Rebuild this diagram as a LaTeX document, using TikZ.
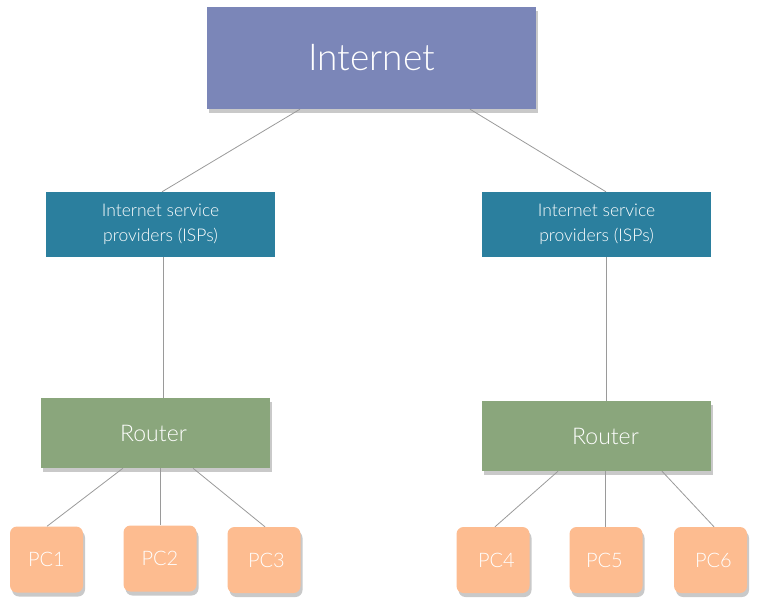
\documentclass[tikz,border=0pt]{standalone}
\usepackage{fontspec}
\setmainfont{Lato}[UprightFont=* Light]
\usetikzlibrary{shadows}
\definecolor{inetc}{HTML}{7B86B8}
\definecolor{ispc}{HTML}{2B7F9E}
\definecolor{routc}{HTML}{8AA67C}
\definecolor{pcc}{HTML}{FDBC90}
\definecolor{linec}{HTML}{9A9A9A}
\tikzset{
  box/.style={rectangle, inner sep=0pt, text=white, align=center},
  shad/.style={drop shadow={shadow xshift=2pt, shadow yshift=-4pt, opacity=0.3, fill=black!70}},
  inetbox/.style={box, shad, fill=inetc, minimum width=329pt, minimum height=102pt, font=\fontsize{37}{40}\selectfont},
  ispbox/.style={box, fill=ispc, minimum width=229pt, minimum height=65pt, font=\fontsize{17.5}{25}\selectfont},
  routbox/.style={box, shad, fill=routc, minimum width=229pt, minimum height=70pt, font=\fontsize{23}{26}\selectfont},
  pcbox/.style={box, shad, fill=pcc, rounded corners=7pt, minimum width=73pt, minimum height=66pt, font=\fontsize{20}{22}\selectfont},
  conn/.style={draw=linec, line width=0.8pt}
}
\begin{document}
\begin{tikzpicture}[x=1pt, y=-1pt]
\useasboundingbox (0,0) rectangle (760,607);
\node[inetbox] (inet) at (371.5,58) {Internet};
\node[ispbox] (isp1) at (160.5,224.5) {Internet service\\providers (ISPs)};
\node[ispbox] (isp2) at (596.5,224.5) {Internet service\\providers (ISPs)};
\node[routbox] (r1) at (155.5,433) {Router\hspace*{4pt}};
\node[routbox] (r2) at (596.5,436) {\hspace*{18pt}Router};
\node[pcbox] (pc1) at (46.5,559.5) {PC1};
\node[pcbox] (pc2) at (160,558.5) {PC2};
\node[pcbox] (pc3) at (264,560) {\hspace*{5pt}PC3};
\node[pcbox] (pc4) at (493,560) {\hspace*{7pt}PC4};
\node[pcbox] (pc5) at (606,560) {PC5\hspace*{3pt}};
\node[pcbox] (pc6) at (710.5,560) {\hspace*{6pt}PC6};
\draw[conn] ([xshift=-71.5pt]inet.south) -- ([xshift=1.5pt]isp1.north);
\draw[conn] ([xshift=98.5pt]inet.south) -- ([xshift=9.5pt]isp2.north);
\draw[conn] ([xshift=2.5pt]isp1.south) -- ([xshift=7.5pt]r1.north);
\draw[conn] ([xshift=9.5pt]isp2.south) -- ([xshift=9.5pt]r2.north);
\draw[conn] ([xshift=-32.5pt]r1.south) -- ([xshift=0.5pt]pc1.north);
\draw[conn] ([xshift=4.5pt]r1.south) -- (pc2.north);
\draw[conn] ([xshift=37.5pt]r1.south) -- ([xshift=1pt]pc3.north);
\draw[conn] ([xshift=-38.5pt]r2.south) -- ([xshift=2pt]pc4.north);
\draw[conn] ([xshift=8.5pt]r2.south) -- ([xshift=-1pt]pc5.north);
\draw[conn] ([xshift=65.5pt]r2.south) -- ([xshift=3.5pt]pc6.north);
\end{tikzpicture}
\end{document}
